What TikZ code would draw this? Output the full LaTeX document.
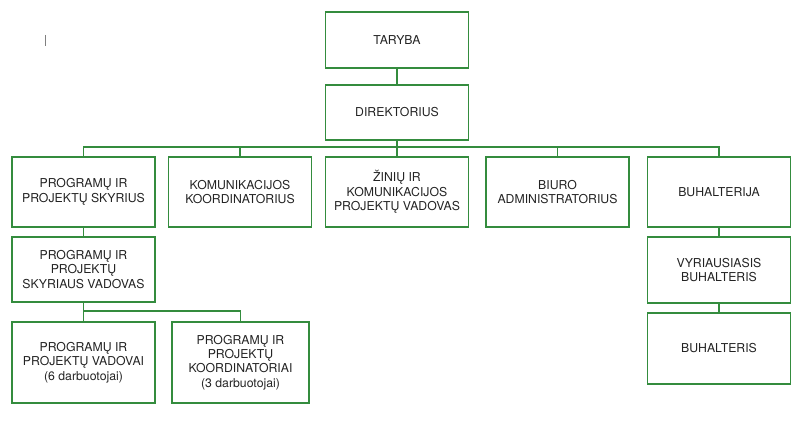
\documentclass[tikz,border=0pt]{standalone}
\usepackage{fontspec}
\setmainfont{TeX Gyre Heros}
\usetikzlibrary{positioning}
\definecolor{orggreen}{RGB}{52,140,62}
\definecolor{orgtext}{RGB}{35,35,35}

\begin{document}
\begin{tikzpicture}[x=0.75pt, y=-0.75pt, every node/.style={inner sep=0pt, align=center, text=orgtext, font=\fontsize{9.2}{10.8}\selectfont},
	unit/.style={rectangle, draw=orggreen, line width=1.1pt, minimum width=107.25pt},
	link/.style={draw=orggreen, line width=1.1pt}]
	\useasboundingbox (0,0) rectangle (800,424);
	%Cursor mark
	\draw[gray, line width=0.7pt] (45,35) -- (45,46);
	%Council and director
	\node [unit, minimum height=42pt] (taryba) at (397,40) {TARYBA};
	\node [unit, minimum height=41.25pt] (direktorius) at (397,112.5) {DIREKTORIUS};
	\draw[link] (taryba) -- (direktorius);
	%Departments
	\node [unit, minimum height=52.5pt] (skyrius) at (83.5,192) {PROGRAMŲ IR\\PROJEKTŲ SKYRIUS};
	\node [unit, minimum height=52.5pt] (komkoord) at (240,192) {KOMUNIKACIJOS\\KOORDINATORIUS};
	\node [unit, minimum height=52.5pt] (zinios) at (397,192) {ŽINIŲ IR\\KOMUNIKACIJOS\\PROJEKTŲ VADOVAS};
	\node [unit, minimum height=52.5pt] (biuras) at (557.5,192) {BIURO\\ADMINISTRATORIUS};
	\node [unit, minimum height=52.5pt] (buhalterija) at (719,192) {BUHALTERIJA};
	\coordinate (bus) at (397,147);
	\draw[link] (direktorius) -- (bus);
	\draw[link] (bus) -| (skyrius);
	\draw[link] (bus) -| (komkoord);
	\draw[link] (bus) -- (zinios);
	\draw[link] (bus) -| (biuras);
	\draw[link] (bus) -| (buhalterija);
	%Programme department
	\node [unit, minimum height=48.75pt] (skvadovas) at (83.5,269.5) {PROGRAMŲ IR\\PROJEKTŲ\\SKYRIAUS VADOVAS};
	\draw[link] (skyrius) -- (skvadovas);
	\node [unit, minimum height=60.75pt] (vadovai) at (83.5,362.5) {PROGRAMŲ IR\\PROJEKTŲ VADOVAI\\(6 darbuotojai)};
	\node [unit, minimum height=60.75pt, minimum width=102.75pt] (koordinatoriai) at (240.5,362.5) {PROGRAMŲ IR\\PROJEKTŲ\\KOORDINATORIAI\\(3 darbuotojai)};
	\coordinate (skbus) at (83.5,311);
	\draw[link] (skvadovas) -- (skbus) -- (vadovai);
	\draw[link] (skbus) -| (koordinatoriai);
	%Accounting
	\node [unit, minimum height=49.5pt] (vyrbuh) at (719,270) {VYRIAUSIASIS\\BUHALTERIS};
	\node [unit, minimum height=53.25pt] (buhalteris) at (719,348.5) {BUHALTERIS};
	\draw[link] (buhalterija) -- (vyrbuh);
	\draw[link] (vyrbuh) -- (buhalteris);
\end{tikzpicture}
\end{document}
